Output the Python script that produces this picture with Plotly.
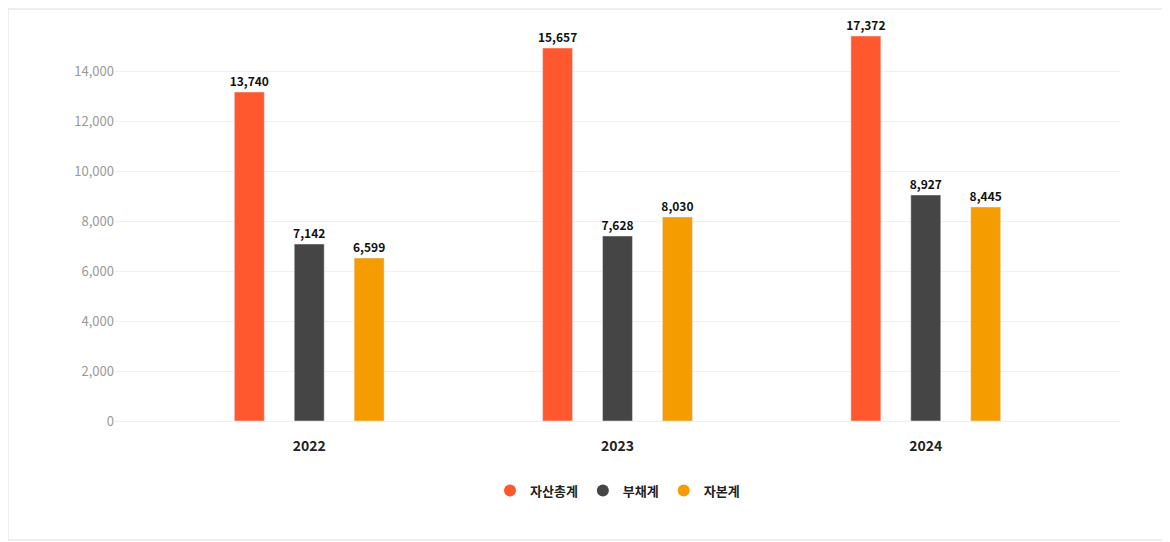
import plotly.graph_objects as go

years = ["2022", "2023", "2024"]
series = ["자산총계", "부채계", "자본계"]
colors = ["#ff572e", "#454545", "#f59c00"]
# bar heights
heights = [[13160, 14920, 15400], [7080, 7400, 9040], [6520, 8160, 8560]]
# printed labels
labels = [[13740, 15657, 17372], [7142, 7628, 8927], [6599, 8030, 8445]]

fig = go.Figure()
for name, col, h, lab in zip(series, colors, heights, labels):
    fig.add_bar(x=[0, 1, 2], y=h, name=name, marker_color=col, showlegend=False,
                text=[f"<b>{v:,}</b>" for v in lab], textposition="outside",
                constraintext="none", textangle=0,
                textfont=dict(size=12, color="#111", family="Noto Sans CJK KR"),
                cliponaxis=False)
for name, col in zip(series, colors):
    fig.add_scatter(x=[None], y=[None], mode="markers", name=f"<b>{name}</b>",
                    marker=dict(symbol="circle", size=13, color=col))

fig.update_layout(
    width=1170, height=542, plot_bgcolor="white", paper_bgcolor="white",
    margin=dict(l=107, r=58, t=23, b=129),
    barmode="group", bargap=0.417, bargroupgap=0.5,
    font=dict(family="Noto Sans CJK KR"),
    uniformtext=dict(minsize=12, mode="show"),
    showlegend=True,
    legend=dict(orientation="h", x=0.5, xanchor="center", y=-0.14, yanchor="top",
                font=dict(size=13, color="#222"), itemsizing="constant"),
    xaxis=dict(tickmode="array", tickvals=[0, 1, 2], ticktext=[f"<b>{y}</b>" for y in years],
               range=[-0.63, 2.63], showgrid=False, zeroline=False,
               showline=True, linecolor="#eeeeee", ticklabelstandoff=12,
               tickfont=dict(size=14, color="#222")),
    yaxis=dict(range=[0, 15600], tickvals=list(range(0, 14001, 2000)), tickformat=",",
               gridcolor="#f0f0f0", zeroline=False, ticks="", ticklen=0,
               tickfont=dict(size=13, color="#999")),
    shapes=[dict(type="rect", xref="paper", yref="paper",
                 x0=-107/1005, x1=1+49/1005, y0=-119/390, y1=1+22/390,
                 line=dict(color="#dddddd", width=1))],
)
fig.write_html("out.html")
